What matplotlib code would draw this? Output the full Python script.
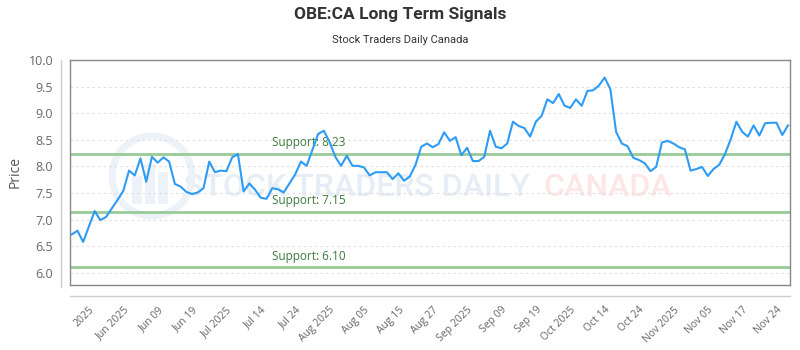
import numpy as np
import matplotlib.pyplot as plt
from matplotlib.lines import Line2D
from matplotlib.patches import Circle, Rectangle

# closing prices, one per trading day
prices = [
    6.72, 6.79, 6.58, 6.87, 7.16, 6.99, 7.05, 7.21, 7.37, 7.54,
    7.92, 7.83, 8.15, 7.71, 8.18, 8.07, 8.17, 8.09, 7.67, 7.62,
    7.52, 7.48, 7.51, 7.59, 8.09, 7.89, 7.92, 7.91, 8.17, 8.23,
    7.53, 7.68, 7.56, 7.41, 7.39, 7.59, 7.57, 7.51, 7.68, 7.85,
    8.09, 8.01, 8.31, 8.61, 8.67, 8.46, 8.18, 8.01, 8.20, 8.01,
    8.01, 7.98, 7.83, 7.89, 7.89, 7.89, 7.76, 7.87, 7.73, 7.81,
    8.03, 8.37, 8.43, 8.36, 8.42, 8.64, 8.48, 8.55, 8.21, 8.35,
    8.10, 8.10, 8.18, 8.67, 8.37, 8.34, 8.43, 8.84, 8.76, 8.72,
    8.56, 8.84, 8.95, 9.26, 9.19, 9.36, 9.14, 9.10, 9.26, 9.14,
    9.42, 9.43, 9.52, 9.67, 9.45, 8.65, 8.43, 8.38, 8.16, 8.12,
    8.06, 7.91, 7.99, 8.45, 8.48, 8.43, 8.36, 8.32, 7.92, 7.95,
    7.99, 7.82, 7.95, 8.03, 8.23, 8.51, 8.84, 8.65, 8.56, 8.77,
    8.58, 8.81, 8.82, 8.82, 8.59, 8.77,
]
tick_idx = list(range(3, 126, 6))
tick_labels = ['2025', 'Jun 2025', 'Jun 09', 'Jun 19', 'Jul 2025', 'Jul 14',
               'Jul 24', 'Aug 2025', 'Aug 05', 'Aug 15', 'Aug 27', 'Sep 2025',
               'Sep 09', 'Sep 19', 'Oct 2025', 'Oct 14', 'Oct 24', 'Nov 2025',
               'Nov 05', 'Nov 17', 'Nov 24']
supports = [8.23, 7.15, 6.10]

plt.rcParams['font.family'] = ['Open Sans', 'DejaVu Sans']

fig = plt.figure(figsize=(8, 3.5), dpi=100)
ax = fig.add_axes([70 / 800, 65 / 350, 720 / 800, 225 / 350])

x = np.arange(len(prices))

# watermark (pixel coords, origin bottom-left)
ax.text(0.158, 0.435, 'STOCK TRADERS DAILY', transform=ax.transAxes,
        fontsize=23, family='Roboto', fontweight='medium', color='#e6edf5',
        ha='left', va='center', zorder=0)
ax.text(0.658, 0.435, 'CANADA', transform=ax.transAxes,
        fontsize=23, family='Roboto', fontweight='medium', color='#fde6e6',
        ha='left', va='center', zorder=0)
lx, ly = 152, 174
ax.add_patch(Circle((lx, ly), 40, transform=None, fill=False,
                    lw=5, ec='#edf2f8', zorder=0.5))
for dx, h in [(-20, 28), (-7, 40), (6, 32)]:
    ax.add_patch(Rectangle((lx + dx, ly - 28), 10, h, transform=None,
                           fc='#edf2f8', ec='none', zorder=0.5))

for y in np.arange(6.0, 10.0, 0.5):
    ax.axhline(y, color='#dddddd', lw=0.8, ls=(0, (2, 3)), zorder=1)

for s in supports:
    ax.axhline(s, color='#98cb98', lw=2, zorder=2)
    ax.annotate('Support: %.2f' % s, (35, s), xytext=(0, 3.5),
                textcoords='offset points', color='#3b7a3b', fontsize=8.5,
                ha='left', va='bottom', zorder=3)

ax.plot(x, prices, color='#2e9bf5', lw=1.5, zorder=4)

ax.set_xlim(-0.3, 125.35)
ax.set_ylim(5.77, 10.0)
ax.set_yticks(np.arange(6.0, 10.01, 0.5))
ax.set_yticklabels(['%.1f' % v for v in np.arange(6.0, 10.01, 0.5)])
ax.set_xticks(tick_idx)
ax.set_xticklabels(tick_labels, rotation=45, ha='right', rotation_mode='anchor')
ax.tick_params(axis='y', length=0, pad=12, labelsize=9, labelcolor='#666666')
ax.tick_params(axis='x', length=0, pad=14, labelsize=7.5, labelcolor='#666666')
for sp in ax.spines.values():
    sp.set_color('#888888')
    sp.set_linewidth(1)
fig.text(15 / 800, 1 - 172 / 350, 'Price', rotation=90, ha='center', va='center',
         fontsize=10, color='#555555')

# outer axis lines
fig.add_artist(Line2D([61 / 800, 61 / 800], [63 / 350, 290 / 350],
                      color='#cccccc', lw=1))
fig.add_artist(Line2D([70 / 800, 790 / 800], [54 / 350, 54 / 350],
                      color='#cccccc', lw=1))

fig.text(0.5, 1 - 15 / 350, 'OBE:CA Long Term Signals', ha='center', va='center',
         fontsize=12.5, fontweight='bold', color='#333333', family='Roboto')
fig.text(0.5, 1 - 40 / 350, 'Stock Traders Daily Canada', ha='center', va='center',
         fontsize=8, color='#333333', family='Roboto')

fig.savefig('out.png', dpi=100)
